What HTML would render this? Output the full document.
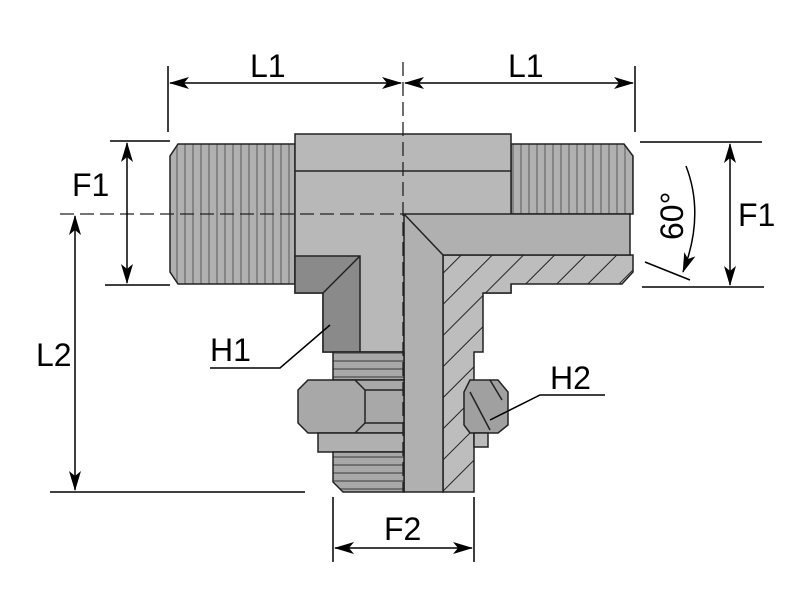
<!DOCTYPE html>
<html><head><style>body{margin:0;background:#fff}svg{display:block}text{font-family:"Liberation Sans",sans-serif;font-size:32px;fill:#000}</style></head>
<body>
<svg width="800" height="600" viewBox="0 0 800 600" xmlns="http://www.w3.org/2000/svg">
<defs>
<marker id="a" viewBox="0 0 20 12" refX="19" refY="6" markerWidth="20" markerHeight="12" markerUnits="userSpaceOnUse" orient="auto-start-reverse"><path d="M0,0L20,6L0,12L5,6Z" fill="#000"/></marker>
<pattern id="thr" width="8" height="10" patternUnits="userSpaceOnUse"><rect width="8" height="10" fill="#b0b0b0"/><rect x="0" width="2" height="10" fill="#858585"/></pattern>
<pattern id="thh" width="10" height="8" patternUnits="userSpaceOnUse"><rect width="10" height="8" fill="#a8a8a8"/><rect y="0" width="10" height="2" fill="#707070"/></pattern>
<pattern id="hat" width="22" height="22" patternUnits="userSpaceOnUse" patternTransform="rotate(45)"><rect width="22" height="22" fill="#bdbdbd"/><line x1="0" y1="0" x2="0" y2="22" stroke="#222" stroke-width="2"/></pattern>
</defs>
<g stroke="#222" stroke-width="1.5">
<path d="M178,144H295V284H178L170,272V156Z" fill="url(#thr)"/>
<path d="M511,144H624L633,156V214H511Z" fill="url(#thr)"/>
<path d="M295,134H511V293H404V352H323V293H295Z" fill="#b8b8b8"/>
<line x1="295" y1="171" x2="511" y2="171"/>
<path d="M295,256H360V352H323V293H295Z" fill="#8a8a8a"/>
<path d="M360,256L323,293" fill="none"/>
<path d="M443,255H633L633,272L622,284H511V293H483V352H474V492H443Z" fill="url(#hat)"/>
<path d="M404,214H630V255H443V492H404Z" fill="#b0b0b0"/>
<path d="M404,214L443,255" fill="none"/>
<rect x="333" y="352" width="71" height="28" fill="url(#thh)"/>
<path d="M308,380H404V433H308L298,423V390Z" fill="#a8a8a8"/>
<path d="M355,380L365,390V423L355,433M365,390H404M365,423H404" fill="none"/>
<rect x="318" y="433" width="86" height="19" fill="#b0b0b0"/>
<path d="M333,452H404V492H343L333,482Z" fill="url(#thh)"/>
<path d="M470,380H498L508,392V425L498,433H470L464,425V392Z" fill="#a0a0a0"/>
<path d="M470,392L490,430M490,380L502,400" fill="none"/>
<rect x="474" y="433" width="14" height="14" fill="#bbb"/>
</g>
<g stroke="#222" stroke-width="1.3" stroke-dasharray="14,6" fill="none">
<line x1="403" y1="62" x2="403" y2="492"/>
<line x1="60" y1="214" x2="404" y2="214"/>
</g>
<g stroke="#000" stroke-width="1.5" fill="none">
<line x1="168" y1="66" x2="168" y2="132"/>
<line x1="635" y1="66" x2="635" y2="132"/>
<line x1="170" y1="83" x2="401" y2="83" marker-start="url(#a)" marker-end="url(#a)"/>
<line x1="405" y1="83" x2="633" y2="83" marker-start="url(#a)" marker-end="url(#a)"/>
<line x1="110" y1="141" x2="170" y2="141"/>
<line x1="105" y1="285" x2="170" y2="285"/>
<line x1="127" y1="143" x2="127" y2="283" marker-start="url(#a)" marker-end="url(#a)"/>
<line x1="75" y1="216" x2="75" y2="490" marker-start="url(#a)" marker-end="url(#a)"/>
<line x1="50" y1="492" x2="305" y2="492"/>
<line x1="333" y1="497" x2="333" y2="562"/>
<line x1="474" y1="497" x2="474" y2="562"/>
<line x1="335" y1="548" x2="472" y2="548" marker-start="url(#a)" marker-end="url(#a)"/>
<line x1="640" y1="142" x2="762" y2="142"/>
<line x1="642" y1="287" x2="764" y2="287"/>
<line x1="730" y1="144" x2="730" y2="285" marker-start="url(#a)" marker-end="url(#a)"/>
<line x1="645" y1="262" x2="690" y2="280"/>
<path d="M686,166Q705,215 683,272" marker-end="url(#a)"/>
<path d="M210,368H280L330,325"/>
<path d="M605,395H540L490,420"/>
</g>
<text x="250" y="77">L1</text>
<text x="508" y="77">L1</text>
<text x="72" y="196">F1</text>
<text x="738" y="226">F1</text>
<text x="36" y="366">L2</text>
<text x="384" y="540">F2</text>
<text x="210" y="361">H1</text>
<text x="550" y="389">H2</text>
<text transform="translate(683,240) rotate(-90)">60°</text>
</svg>
</body></html>
